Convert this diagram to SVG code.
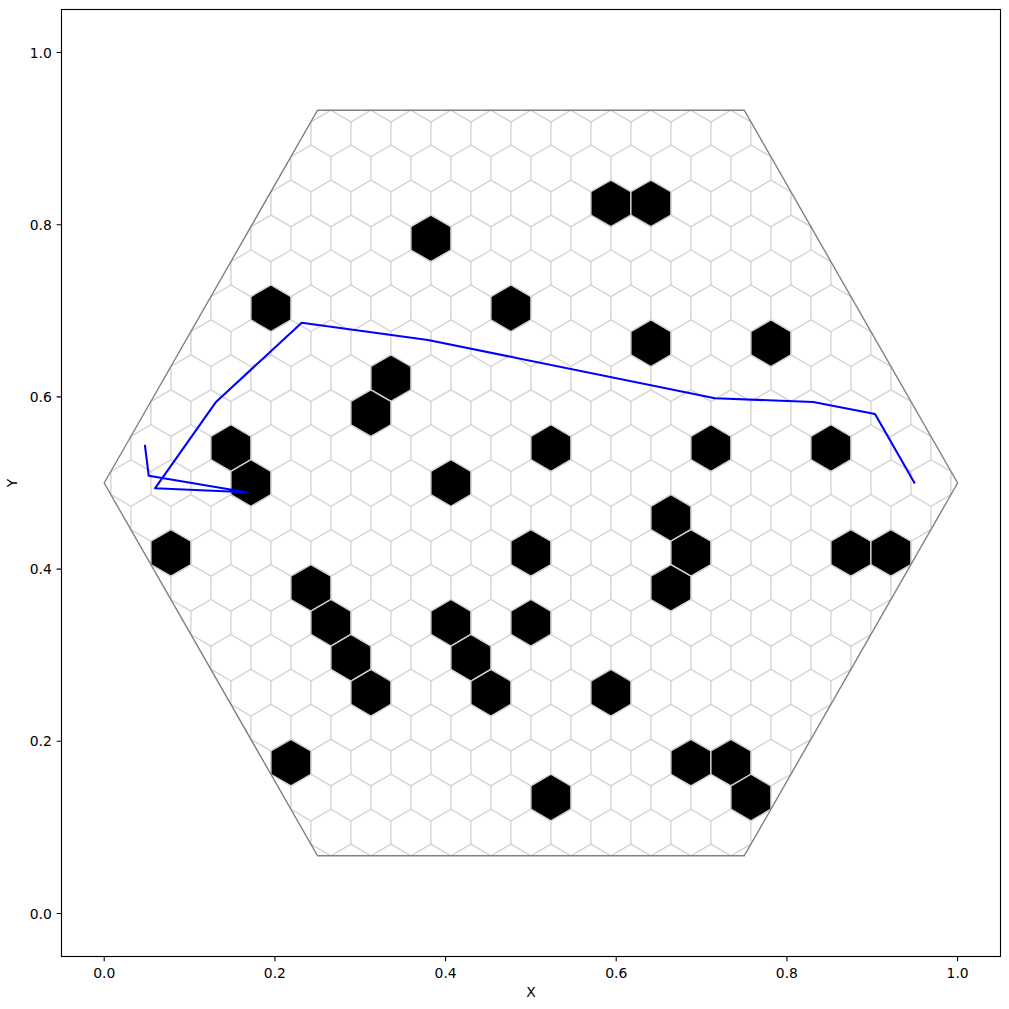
<svg xmlns="http://www.w3.org/2000/svg" xmlns:xlink="http://www.w3.org/1999/xlink" width="1009" height="1009" viewBox="0 0 1009 1009">
<style>
.grid{fill:none;stroke:#d3d3d3;stroke-width:1.39}
.vd{stroke-dasharray:23.3 46.6}
.blk{fill:#000;stroke:#d3d3d3;stroke-width:1.39}
.outline{fill:none;stroke:#808080;stroke-width:1.39;stroke-linejoin:miter}
.route{fill:none;stroke:#0000ff;stroke-width:2.08;stroke-linejoin:round;stroke-linecap:square}
.spine{fill:none;stroke:#000;stroke-width:1.11}
.tk{stroke:#000;stroke-width:1.11}
text{font-family:"DejaVu Sans","Liberation Sans",sans-serif;font-size:13.9px;fill:#000}
.yl{text-anchor:end}
.xl{text-anchor:middle}
</style>
<defs>
<clipPath id="hc"><polygon points="104.2,483 317.55,110.2 744.25,110.2 957.6,483 744.25,855.8 317.55,855.8"/></clipPath>
<path id="z" d="M0 0l20-11.65 20 11.65 20-11.65 20 11.65 20-11.65 20 11.65 20-11.65 20 11.65 20-11.65 20 11.65 20-11.65 20 11.65 20-11.65 20 11.65 20-11.65 20 11.65 20-11.65 20 11.65 20-11.65 20 11.65 20-11.65 20 11.65 20-11.65 20 11.65 20-11.65 20 11.65 20-11.65 20 11.65 20-11.65 20 11.65 20-11.65 20 11.65 20-11.65 20 11.65 20-11.65 20 11.65 20-11.65 20 11.65 20-11.65 20 11.65 20-11.65 20 11.65 20-11.65 20 11.65 20-11.65 20 11.65 20-11.65 20 11.65 20-11.65 20 11.65"/>
<path id="hx" d="M0 -23.3L20 -11.65L20 11.65L0 23.3L-20 11.65L-20 -11.65Z"/>
</defs>
<rect x="0" y="0" width="1009" height="1009" fill="#fff"/>

<g id="hex-grid" class="grid" clip-path="url(#hc)">
<use href="#z" x="30.9" y="121.85"/>
<use href="#z" x="10.9" y="156.8"/>
<use href="#z" x="30.9" y="191.75"/>
<use href="#z" x="10.9" y="226.7"/>
<use href="#z" x="30.9" y="261.65"/>
<use href="#z" x="10.9" y="296.6"/>
<use href="#z" x="30.9" y="331.55"/>
<use href="#z" x="10.9" y="366.5"/>
<use href="#z" x="30.9" y="401.45"/>
<use href="#z" x="10.9" y="436.4"/>
<use href="#z" x="30.9" y="471.35"/>
<use href="#z" x="10.9" y="506.3"/>
<use href="#z" x="30.9" y="541.25"/>
<use href="#z" x="10.9" y="576.2"/>
<use href="#z" x="30.9" y="611.15"/>
<use href="#z" x="10.9" y="646.1"/>
<use href="#z" x="30.9" y="681.05"/>
<use href="#z" x="10.9" y="716"/>
<use href="#z" x="30.9" y="750.95"/>
<use href="#z" x="10.9" y="785.9"/>
<use href="#z" x="30.9" y="820.85"/>
<use href="#z" x="10.9" y="855.8"/>
<path class="vd" d="M110.9 121.85V890.75M150.9 121.85V890.75M190.9 121.85V890.75M230.9 121.85V890.75M270.9 121.85V890.75M310.9 121.85V890.75M350.9 121.85V890.75M390.9 121.85V890.75M430.9 121.85V890.75M470.9 121.85V890.75M510.9 121.85V890.75M550.9 121.85V890.75M590.9 121.85V890.75M630.9 121.85V890.75M670.9 121.85V890.75M710.9 121.85V890.75M750.9 121.85V890.75M790.9 121.85V890.75M830.9 121.85V890.75M870.9 121.85V890.75M910.9 121.85V890.75M950.9 121.85V890.75"/>
<path class="vd" d="M130.9 156.8V925.7M170.9 156.8V925.7M210.9 156.8V925.7M250.9 156.8V925.7M290.9 156.8V925.7M330.9 156.8V925.7M370.9 156.8V925.7M410.9 156.8V925.7M450.9 156.8V925.7M490.9 156.8V925.7M530.9 156.8V925.7M570.9 156.8V925.7M610.9 156.8V925.7M650.9 156.8V925.7M690.9 156.8V925.7M730.9 156.8V925.7M770.9 156.8V925.7M810.9 156.8V925.7M850.9 156.8V925.7M890.9 156.8V925.7M930.9 156.8V925.7"/>
</g>

<g id="obstacles" class="blk">
<use id="o1" href="#hx" x="610.9" y="203.4"/>
<use id="o2" href="#hx" x="650.9" y="203.4"/>
<use id="o3" href="#hx" x="430.9" y="238.35"/>
<use id="o4" href="#hx" x="270.9" y="308.25"/>
<use id="o5" href="#hx" x="510.9" y="308.25"/>
<use id="o6" href="#hx" x="650.9" y="343.2"/>
<use id="o7" href="#hx" x="770.9" y="343.2"/>
<use id="o8" href="#hx" x="390.9" y="378.15"/>
<use id="o9" href="#hx" x="370.9" y="413.1"/>
<use id="o10" href="#hx" x="230.9" y="448.05"/>
<use id="o11" href="#hx" x="550.9" y="448.05"/>
<use id="o12" href="#hx" x="710.9" y="448.05"/>
<use id="o13" href="#hx" x="830.9" y="448.05"/>
<use id="o14" href="#hx" x="250.9" y="483"/>
<use id="o15" href="#hx" x="450.9" y="483"/>
<use id="o16" href="#hx" x="670.9" y="517.95"/>
<use id="o17" href="#hx" x="170.9" y="552.9"/>
<use id="o18" href="#hx" x="530.9" y="552.9"/>
<use id="o19" href="#hx" x="690.9" y="552.9"/>
<use id="o20" href="#hx" x="850.9" y="552.9"/>
<use id="o21" href="#hx" x="890.9" y="552.9"/>
<use id="o22" href="#hx" x="310.9" y="587.85"/>
<use id="o23" href="#hx" x="670.9" y="587.85"/>
<use id="o24" href="#hx" x="330.9" y="622.8"/>
<use id="o25" href="#hx" x="450.9" y="622.8"/>
<use id="o26" href="#hx" x="530.9" y="622.8"/>
<use id="o27" href="#hx" x="350.9" y="657.75"/>
<use id="o28" href="#hx" x="470.9" y="657.75"/>
<use id="o29" href="#hx" x="370.9" y="692.7"/>
<use id="o30" href="#hx" x="490.9" y="692.7"/>
<use id="o31" href="#hx" x="610.9" y="692.7"/>
<use id="o32" href="#hx" x="290.9" y="762.6"/>
<use id="o33" href="#hx" x="690.9" y="762.6"/>
<use id="o34" href="#hx" x="730.9" y="762.6"/>
<use id="o35" href="#hx" x="550.9" y="797.55"/>
<use id="o36" href="#hx" x="750.9" y="797.55"/>
</g>

<g id="boundary">
<polygon class="outline" points="104.2,483 317.55,110.2 744.25,110.2 957.6,483 744.25,855.8 317.55,855.8"/>
</g>

<g id="connectors">
<path class="route" d="M145 446L148.7 475.7L246.7 492.3L155 488.3L215.7 402.3L301.7 322.7L428 340L715 398.3L813.3 402L875 414L914.3 482.7"/>
</g>

<g id="axes">
<rect class="spine" x="61.5" y="9.5" width="939" height="947"/>
<path class="tk" d="M104.2 956.5v4.86M274.9 956.5v4.86M445.6 956.5v4.86M616.2 956.5v4.86M786.9 956.5v4.86M957.6 956.5v4.86M61.5 913.45h-4.86M61.5 741.3h-4.86M61.5 569.1h-4.86M61.5 396.9h-4.86M61.5 224.7h-4.86M61.5 52.55h-4.86"/>
<text class="xl" x="104.2" y="978">0.0</text>
<text class="xl" x="274.9" y="978">0.2</text>
<text class="xl" x="445.6" y="978">0.4</text>
<text class="xl" x="616.2" y="978">0.6</text>
<text class="xl" x="786.9" y="978">0.8</text>
<text class="xl" x="957.6" y="978">1.0</text>
<text class="yl" x="51.8" y="918.5">0.0</text>
<text class="yl" x="51.8" y="746.3">0.2</text>
<text class="yl" x="51.8" y="574.1">0.4</text>
<text class="yl" x="51.8" y="401.9">0.6</text>
<text class="yl" x="51.8" y="229.7">0.8</text>
<text class="yl" x="51.8" y="57.6">1.0</text>
<text class="xl" x="531" y="997">X</text>
<text class="xl" transform="translate(16.5,483) rotate(-90)">Y</text>
</g>
</svg>
